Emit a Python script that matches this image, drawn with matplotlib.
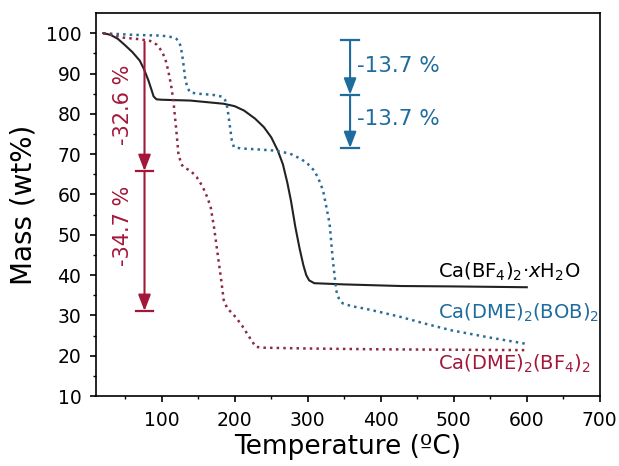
import numpy as np
import matplotlib.pyplot as plt

# TGA curves
t_hyd = [20, 30, 40, 50, 60, 70, 76, 82, 86, 89, 93, 100, 139, 185, 200, 213, 228, 240, 250, 259, 266, 272, 277, 283, 289, 294, 298, 302, 309, 350, 428, 500, 600]
m_hyd = [100, 99.6, 98.6, 97.0, 95.3, 93.2, 91.0, 88.2, 86.0, 84.3, 83.6, 83.5, 83.3, 82.5, 81.9, 80.8, 78.8, 76.7, 74.2, 70.9, 67.5, 63.0, 58.5, 52.0, 46.5, 42.5, 40.0, 38.7, 38.0, 37.7, 37.3, 37.2, 37.0]

t_bob = [20, 60, 100, 115, 120, 123, 126, 129, 132, 135, 139, 150, 170, 182, 187, 190, 193, 196, 199, 210, 230, 254, 275, 291, 300, 309, 315, 321, 326, 330, 334, 339, 343, 348, 360, 378, 400, 428, 460, 497, 550, 598]
m_bob = [100, 99.6, 99.4, 99.0, 98.6, 98.1, 96.8, 93.5, 89.0, 86.6, 85.3, 85.0, 84.7, 84.3, 83.4, 81.5, 77.5, 73.5, 71.7, 71.4, 71.2, 70.9, 70.2, 68.8, 67.6, 65.9, 63.8, 61.0, 56.5, 52.7, 44.5, 36.2, 34.0, 33.0, 32.3, 31.7, 30.8, 29.6, 28.0, 26.3, 24.5, 23.0]

t_bf4 = [20, 48, 70, 84, 93, 100, 105, 109, 113, 116, 120, 123, 127, 130, 140, 148, 156, 162, 167, 172, 176, 181, 185, 190, 197, 203, 210, 217, 223, 229, 240, 302, 400, 500, 598]
m_bf4 = [100, 98.9, 98.5, 98.1, 97.2, 95.6, 93.6, 90.7, 87.0, 83.3, 76.0, 70.0, 67.5, 66.8, 65.8, 64.3, 62.0, 59.5, 57.0, 51.5, 46.1, 39.5, 33.8, 31.7, 30.5, 29.2, 27.5, 25.5, 23.8, 22.2, 22.0, 21.8, 21.6, 21.5, 21.4]

labels = [r'Ca(BF$_4$)$_2$·$x$H$_2$O', r'Ca(DME)$_2$(BOB)$_2$', r'Ca(DME)$_2$(BF$_4$)$_2$']

# mass-loss steps
red_steps = [97.9, 65.8, 31.1]
red_texts = ['-32.6 %', '-34.7 %']
blue_steps = [98.3, 84.75, 71.5]
blue_texts = ['-13.7 %', '-13.7 %']

c_black = '#222222'
c_blue = '#2B6C96'
c_red = '#8C2A40'
c_red_ann = '#A3173B'
c_blue_ann = '#1E6C9E'

fig = plt.figure(figsize=(6.19, 4.66), dpi=100)
ax = fig.add_axes([0.155, 0.150, 0.814, 0.822])

ax.plot(t_hyd, m_hyd, color=c_black, lw=1.5)
ax.plot(t_bob, m_bob, color=c_blue, lw=1.8, ls=':')
ax.plot(t_bf4, m_bf4, color=c_red, lw=1.8, ls=':')

ax.text(479, 40.9, labels[0], color='black', fontsize=14, va='center', ha='left')
ax.text(479, 30.7, labels[1], color=c_blue_ann, fontsize=14, va='center', ha='left')
ax.text(479, 17.9, labels[2], color=c_red_ann, fontsize=14, va='center', ha='left')


def steps(x, levels, color, cap_top):
    for i in range(len(levels) - 1):
        ax.annotate('', xy=(x, levels[i + 1]), xytext=(x, levels[i]),
                    arrowprops=dict(arrowstyle='-|>,head_length=0.65,head_width=0.25',
                                    color=color, lw=1.5,
                                    mutation_scale=15, shrinkA=0, shrinkB=0))
    caps = levels[1:] if not cap_top else levels
    for lv in caps:
        ax.plot([x - 12, x + 12], [lv, lv], color=color, lw=1.6)


steps(76.5, red_steps, c_red_ann, False)
steps(358, blue_steps, c_blue_ann, True)

ax.text(47, 82.2, red_texts[0], color=c_red_ann, fontsize=15, rotation=90, va='center', ha='center')
ax.text(47, 52.2, red_texts[1], color=c_red_ann, fontsize=15, rotation=90, va='center', ha='center')
ax.text(368, 91.9, blue_texts[0], color=c_blue_ann, fontsize=15.5, va='center', ha='left')
ax.text(368, 78.6, blue_texts[1], color=c_blue_ann, fontsize=15.5, va='center', ha='left')

ax.set_xlim(10, 700)
ax.set_ylim(10, 105)
ax.set_xticks(np.arange(100, 701, 100))
ax.set_xticks(np.arange(50, 701, 50), minor=True)
ax.set_yticks(np.arange(10, 101, 10))
ax.set_yticks(np.arange(10, 105, 5), minor=True)
ax.tick_params(which='major', length=4.5, width=1.2, labelsize=13.5, pad=6)
ax.tick_params(which='minor', length=2.5, width=1.0)
for s in ax.spines.values():
    s.set_linewidth(1.2)

ax.set_xlabel('Temperature (ºC)', fontsize=19, labelpad=3)
ax.set_ylabel('Mass (wt%)', fontsize=20, labelpad=6)

fig.savefig('out.png', dpi=100)
